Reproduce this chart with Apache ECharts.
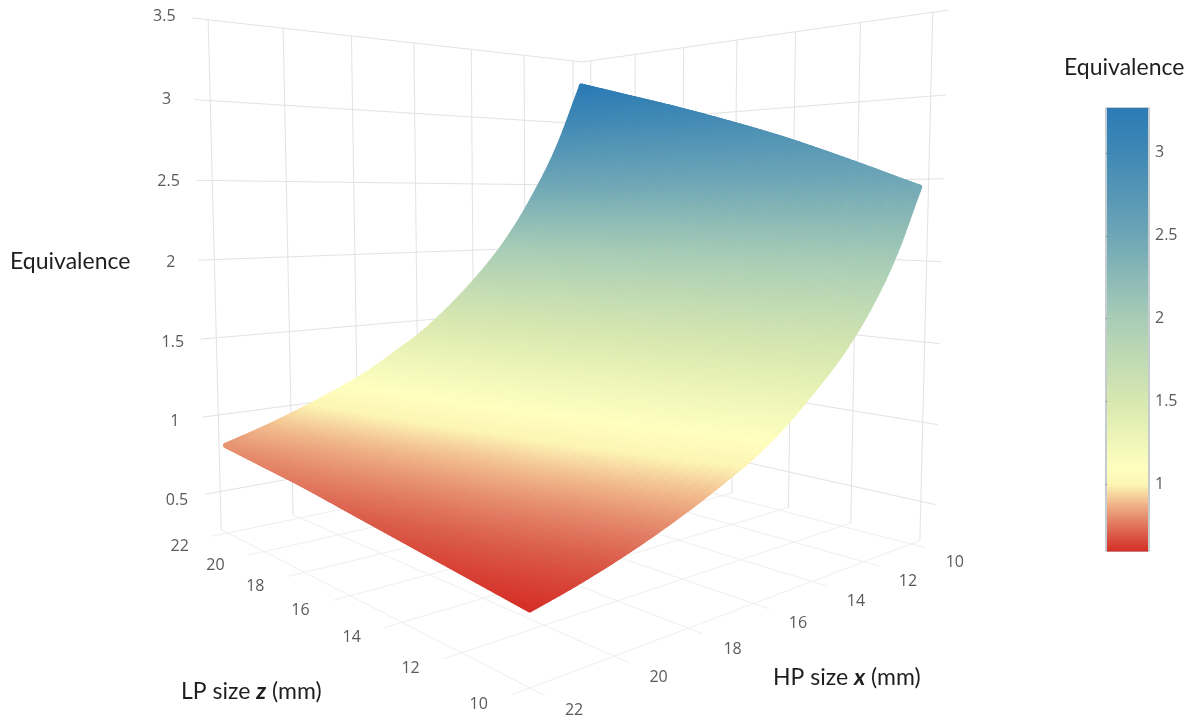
<!DOCTYPE html>
<html><head><meta charset="utf-8">
<style>html,body{margin:0;padding:0;background:#fff}#c{width:1196px;height:725px}</style>
<script src="https://cdn.jsdelivr.net/npm/echarts@6/dist/echarts.min.js"></script>
</head><body><div id="c"></div>
<script>
// ---- data ----
const hpTicks = [10, 12, 14, 16, 18, 20, 22];
const lpTicks = [10, 12, 14, 16, 18, 20, 22];
const eqTicks = [0.5, 1, 1.5, 2, 2.5, 3, 3.5];
const barTicks = [1, 1.5, 2, 2.5, 3];
const surfaceHP = [10, 11, 12, 13, 14, 15, 16, 17, 18, 19, 20, 21, 22];
const surfaceLP = [10, 12, 14, 16, 18, 20, 22];
// one row per HP size, one column per LP size
const equivalence = [
  [2.45, 2.62, 2.78, 2.92, 3.05, 3.17, 3.29],
  [2.05, 2.20, 2.33, 2.46, 2.57, 2.68, 2.78],
  [1.75, 1.88, 2.00, 2.11, 2.21, 2.30, 2.39],
  [1.52, 1.63, 1.74, 1.83, 1.92, 1.99, 2.07],
  [1.34, 1.43, 1.52, 1.60, 1.68, 1.75, 1.82],
  [1.18, 1.27, 1.35, 1.42, 1.49, 1.55, 1.61],
  [1.05, 1.13, 1.20, 1.27, 1.33, 1.38, 1.43],
  [0.95, 1.02, 1.08, 1.14, 1.19, 1.24, 1.29],
  [0.86, 0.92, 0.98, 1.03, 1.08, 1.12, 1.16],
  [0.78, 0.83, 0.89, 0.93, 0.98, 1.02, 1.06],
  [0.71, 0.76, 0.81, 0.85, 0.89, 0.93, 0.97],
  [0.65, 0.70, 0.74, 0.78, 0.82, 0.85, 0.89],
  [0.60, 0.64, 0.68, 0.72, 0.76, 0.79, 0.82]
];
const scaleValues = [0.6, 0.7, 0.8, 0.9, 1.0, 1.1, 1.5, 2.0, 2.5, 3.0, 3.27];
const scaleColors = ['#d62f27', '#da5a48', '#e58a6c', '#f2bd8e', '#fdf5b4', '#ffffbf', '#d8e8b0', '#a8cdb6', '#6ea6b6', '#3f88b5', '#2c7bb6'];

// ---- camera of the box ----
const axisLow = 9.6, axisHigh = 22.4, eqMin = 0.25, eqMax = 3.5;
const cam = { F: [530, 688], R: [911, 544], L: [228, 533], V: [579, 14500], p: 0.42, q: 0.47, r: -0.0523 };
function project(x, z, v) {
  const a = (22 - x) / 12, b = (z - 10) / 12, t = (v - eqMin) / (eqMax - eqMin);
  const w = 1 + cam.p * a + cam.q * b + cam.r * t;
  return [0, 1].map(i =>
    (cam.F[i] + a * (cam.R[i] * (1 + cam.p) - cam.F[i]) + b * (cam.L[i] * (1 + cam.q) - cam.F[i]) + t * cam.r * cam.V[i]) / w);
}
function hex(h) { return [1, 3, 5].map(i => parseInt(h.substr(i, 2), 16)); }
function colorOf(v) {
  const n = scaleValues.length;
  if (v <= scaleValues[0]) return scaleColors[0];
  if (v >= scaleValues[n - 1]) return scaleColors[n - 1];
  let i = 0; while (v > scaleValues[i + 1]) i++;
  const f = (v - scaleValues[i]) / (scaleValues[i + 1] - scaleValues[i]);
  const A = hex(scaleColors[i]), B = hex(scaleColors[i + 1]);
  return 'rgb(' + A.map((c, k) => Math.round(c + (B[k] - c) * f)).join(',') + ')';
}

// ---- grid lines of the box ----
const wallLines = [], floorLines = [];
hpTicks.forEach(x => {
  wallLines.push([x, axisHigh, eqMin, x, axisHigh, eqMax]);
  floorLines.push([x, axisLow, eqMin, x, axisHigh, eqMin]);
});
lpTicks.forEach(z => {
  wallLines.push([axisLow, z, eqMin, axisLow, z, eqMax]);
  floorLines.push([axisHigh, z, eqMin, axisLow, z, eqMin]);
});
eqTicks.forEach(v => {
  wallLines.push([axisHigh, axisHigh, v, axisLow, axisHigh, v]);
  wallLines.push([axisLow, axisHigh, v, axisLow, axisLow, v]);
});
function lineRender(color) {
  return function (params, api) {
    const p0 = api.coord(project(api.value(0), api.value(1), api.value(2)));
    const p1 = api.coord(project(api.value(3), api.value(4), api.value(5)));
    return { type: 'line', shape: { x1: p0[0], y1: p0[1], x2: p1[0], y2: p1[1] }, style: { stroke: color, lineWidth: 1, fill: null } };
  };
}

// ---- surface cells: a smooth patch is drawn through the table values ----
const cells = [];
surfaceHP.slice(0, -1).forEach((_, i) => surfaceLP.slice(0, -1).forEach((_, j) => cells.push([i, j])));
const subX = 12, subZ = 8;
function spline(read, n, pos) {
  const k = Math.min(Math.floor(pos), n - 2), t = pos - k;
  const p1 = read(k), p2 = read(k + 1);
  const p0 = k > 0 ? read(k - 1) : 2 * p1 - p2;
  const p3 = k < n - 2 ? read(k + 2) : 2 * p2 - p1;
  return 0.5 * (2 * p1 + (p2 - p0) * t + (2 * p0 - 5 * p1 + 4 * p2 - p3) * t * t + (3 * p1 - p0 - 3 * p2 + p3) * t * t * t);
}
function surfaceAt(i, j) {
  return spline(r => spline(c => equivalence[r][c], surfaceLP.length, j), surfaceHP.length, i);
}
function surfacePoint(api, i, j) {
  const x = surfaceHP[0] + (surfaceHP[1] - surfaceHP[0]) * i;
  const z = surfaceLP[0] + (surfaceLP[1] - surfaceLP[0]) * j;
  return api.coord(project(x, z, surfaceAt(i, j)));
}
function renderCell(params, api) {
  const i = api.value(0), j = api.value(1), children = [];
  for (let a = 0; a < subX; a++) for (let b = 0; b < subZ; b++) {
    const s0 = i + a / subX, s1 = i + (a + 1) / subX, u0 = j + b / subZ, u1 = j + (b + 1) / subZ;
    const c = colorOf(surfaceAt((s0 + s1) / 2, (u0 + u1) / 2));
    children.push({ type: 'polygon', shape: { points: [surfacePoint(api, s0, u0), surfacePoint(api, s1, u0), surfacePoint(api, s1, u1), surfacePoint(api, s0, u1)] }, style: { fill: c, stroke: c, lineWidth: 1 } });
  }
  return { type: 'group', children };
}
// rim of fine dots along the four sides of the surface
const rimSteps = 320;
const rimDots = [];
for (let k = 0; k <= rimSteps; k++) {
  const f = k / rimSteps;
  const ni = surfaceHP.length - 1, nj = surfaceLP.length - 1;
  rimDots.push([f * ni, 0], [f * ni, nj], [0, f * nj], [ni, f * nj]);
}
function renderRim(params, api) {
  const i = api.value(0), j = api.value(1), p = surfacePoint(api, i, j);
  return { type: 'circle', shape: { cx: p[0], cy: p[1], r: 2.6 }, style: { fill: colorOf(surfaceAt(i, j)) } };
}

// ---- tick labels ----
const tickFont = { fontFamily: 'Open Sans', fontSize: 16, fill: '#5a5a5a', align: 'center', verticalAlign: 'middle' };
const hpLabels = hpTicks.map(x => [x]), lpLabels = lpTicks.map(z => [z]), eqLabels = eqTicks.map(v => [v]);
function labelRender(fn) {
  return function (params, api) {
    const v = api.value(0), o = fn(v), p = api.coord([o[0], o[1]]);
    return { type: 'text', style: Object.assign({ text: String(v), x: p[0], y: p[1] }, tickFont) };
  };
}
const hpPos = x => { const p = project(x, axisLow, eqMin); return [p[0] + 29, p[1] + 15]; };
const lpPos = z => { const p = project(axisHigh, z, eqMin); return [p[0] - 33, p[1] + 10]; };
const eqPos = v => { const p = project(axisHigh, axisHigh, v); return [p[0] - 28, p[1] + (p[1] - 18) / 473 * 8 - 2]; };

// ---- colour bar strips ----
const barStrips = scaleValues.slice(0, -1).map((v, i) => [v, scaleValues[i + 1], i]);
function renderStrip(params, api) {
  const lo = api.value(0), hi = api.value(1), i = api.value(2);
  const p0 = api.coord([0, lo]), p1 = api.coord([0, hi]);
  return {
    type: 'rect', shape: { x: params.coordSys.x + 1, y: p1[1], width: params.coordSys.width - 2, height: p0[1] - p1[1] + 0.5 },
    style: { fill: { type: 'linear', x: 0, y: 1, x2: 0, y2: 0, colorStops: [{ offset: 0, color: scaleColors[i] }, { offset: 1, color: scaleColors[i + 1] }] } }
  };
}

const titleStyle = { fontFamily: 'Lato', fontSize: 23, fill: '#1f1f1f' };
const italic = { i: { fontFamily: 'Lato', fontSize: 23, fontStyle: 'italic', fontWeight: 'bold', fill: '#1f1f1f' } };
function mainSeries(o) { return Object.assign({ type: 'custom', xAxisIndex: 0, yAxisIndex: 0, silent: true, clip: false, animation: false }, o); }

const chart = echarts.init(document.getElementById('c'), null, { renderer: 'canvas' });
chart.setOption({
  animation: false,
  backgroundColor: '#fff',
  grid: [
    { left: 0, top: 0, width: 1196, height: 725 },
    { left: 1106, top: 108, width: 43, height: 443, show: true, borderColor: '#8c9aa3', borderWidth: 1, backgroundColor: 'transparent' }
  ],
  xAxis: [
    { type: 'value', gridIndex: 0, min: 0, max: 1196, show: false },
    { type: 'value', gridIndex: 1, min: 0, max: 1, show: false }
  ],
  yAxis: [
    { type: 'value', gridIndex: 0, min: 0, max: 725, inverse: true, show: false },
    {
      type: 'value', gridIndex: 1, min: 0.6, max: 3.27, position: 'right', splitLine: { show: false }, axisLine: { show: false },
      axisTick: { show: true, length: 3, customValues: barTicks, lineStyle: { color: '#777' } },
      axisLabel: { customValues: barTicks, margin: 6, fontFamily: 'Open Sans', fontSize: 16, color: '#5a5a5a' }
    }
  ],
  series: [
    mainSeries({ data: floorLines, renderItem: lineRender('#efefef') }),
    mainSeries({ data: wallLines, renderItem: lineRender('#e3e3e3') }),
    mainSeries({ data: rimDots, renderItem: renderRim }),
    mainSeries({ data: cells, renderItem: renderCell }),
    mainSeries({ data: hpLabels, renderItem: labelRender(hpPos) }),
    mainSeries({ data: lpLabels, renderItem: labelRender(lpPos) }),
    mainSeries({ data: eqLabels, renderItem: labelRender(eqPos) }),
    { type: 'custom', xAxisIndex: 1, yAxisIndex: 1, silent: true, data: barStrips, renderItem: renderStrip, animation: false }
  ],
  graphic: [
    { type: 'text', left: 10, top: 250, style: Object.assign({ text: 'Equivalence' }, titleStyle) },
    { type: 'text', left: 1064, top: 56, style: Object.assign({ text: 'Equivalence' }, titleStyle) },
    { type: 'text', left: 181, top: 680, style: Object.assign({ text: 'LP size {i|z} (mm)', rich: italic }, titleStyle) },
    { type: 'text', left: 773, top: 666, style: Object.assign({ text: 'HP size {i|x} (mm)', rich: italic }, titleStyle) }
  ]
});
</script></body></html>
